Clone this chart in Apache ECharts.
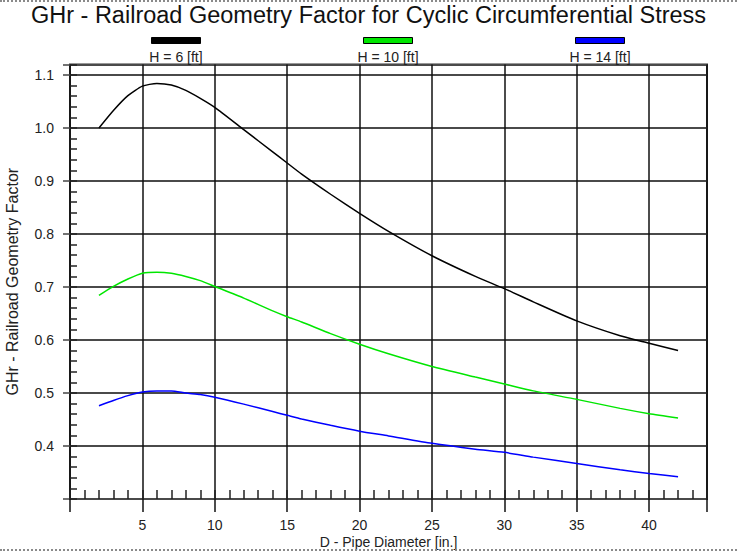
<!DOCTYPE html>
<html>
<head>
<meta charset="utf-8">
<script src="https://cdn.jsdelivr.net/npm/echarts@6/dist/echarts.min.js"></script>
<style>
  html, body { margin: 0; padding: 0; background: #fff; }
  #chart { width: 737px; height: 552px; }
  .edge { position: absolute; left: 0; width: 737px; height: 0; border-top: 2px dotted #8a8a8a; }
</style>
</head>
<body>
<div id="chart"></div>
<div class="edge" style="top:0"></div>
<div class="edge" style="top:549px"></div>
<script>
// pipe diameter D [in.]
const diameters = [2, 3, 4, 5, 6, 7, 8, 9, 10, 12, 14, 15, 16, 18, 20, 22, 25, 28, 30, 32, 35, 38, 40, 42]

// GHr values
const ghrH6 = [1.000, 1.033, 1.061, 1.079, 1.084, 1.081, 1.071, 1.056, 1.039, 0.997, 0.955, 0.934, 0.913, 0.875, 0.839, 0.805, 0.759, 0.720, 0.697, 0.672, 0.636, 0.608, 0.594, 0.580]
const ghrH10 = [0.684, 0.701, 0.715, 0.726, 0.728, 0.726, 0.720, 0.712, 0.701, 0.679, 0.655, 0.644, 0.634, 0.612, 0.592, 0.574, 0.550, 0.530, 0.517, 0.504, 0.488, 0.471, 0.461, 0.453]
const ghrH14 = [0.476, 0.486, 0.495, 0.502, 0.504, 0.504, 0.500, 0.497, 0.492, 0.479, 0.465, 0.458, 0.451, 0.439, 0.428, 0.419, 0.405, 0.394, 0.388, 0.379, 0.367, 0.355, 0.348, 0.342]

const seriesNames = ['H = 6 [ft]', 'H = 10 [ft]', 'H = 14 [ft]']
const seriesColors = ['#000000', '#00e600', '#0000ff']
const legendCenters = [176, 388, 600]

const font = 'Liberation Sans, Arial, sans-serif'
const pair = vals => diameters.map((d, i) => [d, vals[i]])

const chart = echarts.init(document.getElementById('chart'), null, { renderer: 'svg' })

const titles = [{
  text: 'GHr - Railroad Geometry Factor for Cyclic Circumferential Stress',
  left: 'center',
  top: 3,
  padding: 0,
  textStyle: { fontFamily: font, fontSize: 23.5, fontWeight: 'normal', color: '#111' }
}]
seriesNames.forEach((name, i) => {
  titles.push({
    text: name,
    left: legendCenters[i],
    top: 50,
    padding: 0,
    textAlign: 'center',
    textStyle: { fontFamily: font, fontSize: 14, fontWeight: 'normal', color: '#222' }
  })
})

const legends = seriesNames.map((name, i) => ({
  data: [name],
  left: legendCenters[i] - 25,
  top: 37,
  padding: 0,
  icon: 'rect',
  itemWidth: 49,
  itemHeight: 6,
  itemStyle: { borderColor: '#000', borderWidth: 1 },
  formatter: () => '',
  selectedMode: false
}))

const option = {
  backgroundColor: '#fff',
  animation: false,
  title: titles,
  legend: legends,
  grid: {
    left: 70,
    right: 30,
    top: 64.4,
    bottom: 53,
    containLabel: false,
    outerBoundsMode: 'none',
    show: true,
    borderColor: '#333',
    borderWidth: 2
  },
  xAxis: [
    {
      type: 'value',
      min: 0,
      max: 44,
      interval: 1,
      axisLine: { show: false },
      axisTick: { show: true, inside: true, length: 9, lineStyle: { color: '#222', width: 1.5 } },
      axisLabel: { show: false },
      splitLine: { show: false }
    },
    {
      type: 'value',
      min: 0,
      max: 44,
      interval: 5,
      position: 'bottom',
      axisLine: { show: false },
      axisTick: { show: true, inside: false, length: 13, lineStyle: { color: '#111', width: 1.5 } },
      axisLabel: {
        margin: 19,
        fontFamily: font,
        fontSize: 14,
        color: '#222',
        formatter: v => (v > 0 && v < 44 ? String(v) : '')
      },
      splitLine: { show: true, lineStyle: { color: '#111', width: 1.5 } },
      name: 'D - Pipe Diameter [in.]',
      nameLocation: 'middle',
      nameGap: 36,
      nameMoveOverlap: false,
      nameTextStyle: { fontFamily: font, fontSize: 14, color: '#222' }
    }
  ],
  yAxis: [
    {
      type: 'value',
      min: 0.3,
      max: 1.12,
      interval: 0.02,
      axisLine: { show: false },
      axisTick: { show: true, inside: true, length: 7, lineStyle: { color: '#222', width: 1.5 } },
      axisLabel: { show: false },
      splitLine: { show: false }
    },
    {
      type: 'value',
      min: 0.3,
      max: 1.12,
      interval: 0.1,
      position: 'left',
      axisLine: { show: false },
      axisTick: { show: true, inside: false, length: 7, lineStyle: { color: '#444', width: 1.5 } },
      axisLabel: {
        margin: 16,
        fontFamily: font,
        fontSize: 14,
        color: '#222',
        formatter: v => (v > 0.35 && v < 1.11 ? v.toFixed(1) : '')
      },
      splitLine: { show: true, lineStyle: { color: '#4a4a4a', width: 2 } },
      name: 'GHr - Railroad Geometry Factor',
      nameLocation: 'middle',
      nameRotate: 90,
      nameGap: 50,
      nameMoveOverlap: false,
      nameTextStyle: { fontFamily: font, fontSize: 16, color: '#222' }
    }
  ],
  series: [ghrH6, ghrH10, ghrH14].map((vals, i) => ({
    name: seriesNames[i],
    type: 'line',
    data: pair(vals),
    xAxisIndex: 0,
    yAxisIndex: 0,
    smooth: 0.2,
    showSymbol: false,
    color: seriesColors[i],
    lineStyle: { color: seriesColors[i], width: 1.5 }
  }))
}

chart.setOption(option)
</script>
</body>
</html>
